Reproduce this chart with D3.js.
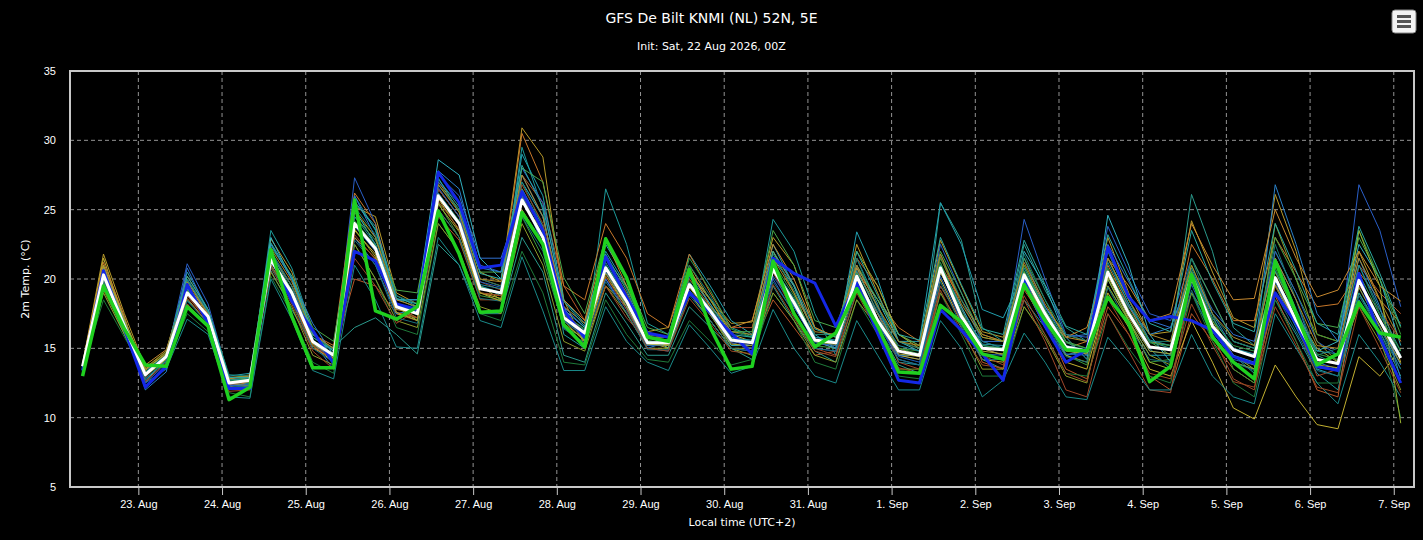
<!DOCTYPE html>
<html>
<head>
<meta charset="utf-8">
<script src="https://cdn.jsdelivr.net/npm/d3@7"></script>
<style>
  html, body { margin: 0; padding: 0; background: #000; }
  svg { display: block; font-family: "DejaVu Sans", sans-serif; }
</style>
</head>
<body>
<svg id="chart" width="1423" height="540"></svg>
<script>
const chartTitle = "GFS De Bilt KNMI (NL) 52N, 5E";
const chartSubtitle = "Init: Sat, 22 Aug 2026, 00Z";
const yTitle = "2m Temp. (°C)";
const xTitle = "Local time (UTC+2)";
const yTicks = [5, 10, 15, 20, 25, 30, 35];

// first value 22 Aug 08:00 local, then every 6 hours up to 7 Sep 02:00
const firstTime = Date.UTC(2026, 7, 22, 8);
const stepHours = 6;

// thick white line
const meanT = [
  13.7,20.3,16.6,13.1, 14.4,19.0,17.3,12.5,
  12.7,21.4,19.0,15.5, 14.5,24.0,22.2,18.0,
  17.5,26.0,24.0,19.3, 19.0,25.7,23.0,17.2,
  16.1,20.8,18.4,15.4, 15.4,19.6,17.7,15.6,
  15.4,20.7,18.3,15.6, 15.4,20.2,17.0,14.8,
  14.5,20.8,17.3,15.0, 14.9,20.3,17.5,15.1,
  14.8,20.5,17.5,15.1, 14.9,20.2,16.6,14.9,
  14.4,20.1,17.0,14.2, 13.9,19.9,17.0,14.3
];
// thick blue line
const operT = [
  13.4,20.6,16.4,12.2, 13.7,19.6,16.8,12.1,
  12.1,21.7,18.4,16.3, 13.9,22.0,21.3,18.2,
  17.8,27.7,25.5,20.8, 21.0,26.3,23.5,17.7,
  15.8,21.6,18.7,16.1, 15.8,19.0,17.6,16.1,
  14.6,21.5,20.4,19.7, 16.6,19.7,16.1,12.7,
  12.5,17.8,16.3,14.6, 12.7,19.9,16.6,14.0,
  14.9,22.3,18.7,17.0, 17.3,17.0,16.3,14.4,
  13.9,19.0,16.8,13.7, 13.4,20.4,15.8,12.5
];
// thick green line
const ctrlT = [
  13.0,19.5,16.4,13.8, 13.7,18.0,16.6,11.3,
  12.2,22.1,17.3,13.6, 13.6,25.7,17.7,17.1,
  18.0,24.9,21.8,17.6, 17.7,24.8,22.5,16.7,
  15.1,22.9,20.1,15.8, 15.5,20.7,16.5,13.5,
  13.7,21.3,17.5,15.1, 16.1,19.3,16.6,13.3,
  13.2,18.1,16.9,14.6, 14.2,19.6,17.0,14.9,
  14.8,18.7,16.8,12.6, 13.7,20.3,15.8,14.0,
  12.8,21.3,17.5,13.8, 14.6,18.3,16.1,15.8
];

// thin ensemble members
const members = [
  [13.9,21.8,17.5,13.6,14.8,20.2,17.8,12.9, 13.0,22.9,20.5,16.0,15.0,25.2,24.5,19.0, 18.2,27.0,25.0,20.5,19.8,30.9,28.8,18.5, 15.2,19.5,18.0,16.2,16.5,21.0,18.5,16.8, 16.9,23.0,21.0,16.5,15.8,22.5,19.0,15.5, 15.0,22.8,19.5,16.2,15.8,21.0,18.0,16.0, 15.5,23.0,19.0,16.0,16.2,24.2,20.5,17.2, 16.5,26.1,22.0,16.0,15.5,22.0,18.5,14.0],
  [13.5,20.8,16.9,12.8,14.2,19.5,17.6,12.4, 12.5,23.5,20.8,16.3,14.2,26.0,23.5,18.6, 17.9,27.3,24.8,19.5,18.8,29.5,25.0,16.0, 15.0,26.5,22.5,16.8,16.0,20.5,18.6,16.5, 15.9,24.3,22.0,17.5,14.5,21.5,18.2,14.0, 13.8,19.5,17.0,14.2,13.5,18.5,16.5,14.5, 14.8,21.5,18.2,15.0,13.5,19.8,16.8,14.5, 13.2,18.5,16.0,13.2,12.0,19.0,16.5,13.5],
  [13.8,19.2,16.2,12.9,14.6,18.8,17.0,12.4, 12.3,21.0,18.5,15.0,14.6,20.0,19.5,17.5, 17.0,24.5,22.8,18.5,18.5,27.5,25.5,19.5, 17.0,21.5,19.5,16.0,15.0,19.0,17.5,15.4, 15.0,18.5,16.5,14.5,14.8,21.5,19.5,16.0, 15.2,21.6,18.0,14.0,13.5,19.2,17.0,13.5, 12.8,18.0,16.0,13.0,12.0,17.5,15.5,13.5, 12.5,18.8,15.5,12.0,11.5,21.0,19.0,17.5],
  [13.4,19.8,16.3,13.5,14.0,18.5,16.8,12.8, 12.6,20.6,17.8,15.1,15.1,16.5,17.2,16.0, 14.6,22.5,21.0,17.5,17.5,23.0,20.5,14.5, 14.0,19.0,16.8,14.5,14.5,18.0,16.5,15.0, 14.2,19.5,17.0,14.8,14.0,19.2,16.5,13.8, 13.2,25.5,22.8,16.5,15.5,22.5,19.2,16.5, 15.5,22.0,18.5,15.5,15.0,26.1,22.0,16.5, 15.2,21.5,17.8,14.5,13.8,19.0,16.2,13.0],
  [13.6,20.0,16.8,13.3,14.3,19.8,17.5,12.6, 12.9,21.8,19.5,15.8,14.8,24.8,23.0,18.2, 17.0,25.5,23.0,18.8,18.5,24.5,21.5,16.5, 15.8,21.0,18.5,15.6,15.2,20.0,18.0,15.8, 15.5,21.0,18.5,15.2,15.0,20.5,18.0,15.0, 14.8,21.5,18.5,16.0,15.5,21.0,17.8,14.5, 13.8,19.5,17.0,14.0,14.2,21.0,17.5,13.5, 12.5,22.0,19.0,16.0,15.5,23.5,20.0,16.0],
  [13.5,21.0,17.2,13.0,14.4,21.1,18.2,12.8, 12.8,22.0,19.5,15.5,14.0,27.3,24.0,18.5, 18.5,27.0,25.5,21.0,20.5,28.0,25.5,18.0, 16.5,20.0,17.8,15.2,15.5,19.5,17.5,15.5, 15.2,20.0,17.5,15.0,14.8,21.0,18.0,14.5, 14.2,22.5,19.0,15.5,15.0,24.3,20.0,16.0, 15.8,23.8,20.5,17.5,17.0,21.5,18.5,15.5, 15.0,22.0,19.0,15.5,14.5,26.8,23.5,18.0],
  [13.8,21.5,17.0,13.2,14.5,19.2,17.2,12.3, 12.4,21.0,18.6,15.2,14.0,23.5,21.8,17.5, 17.2,25.8,23.5,19.0,18.6,26.5,23.5,17.5, 15.5,20.2,18.0,15.2,15.3,20.5,18.5,16.0, 15.5,20.5,18.0,15.5,15.0,19.5,16.8,14.5, 14.2,20.0,16.8,14.2,14.0,19.5,16.5,14.0, 13.5,19.0,16.5,13.5,13.0,17.0,14.0,10.7, 9.9,13.8,11.5,9.5,9.2,14.4,13.0,15.0],
  [13.6,20.5,16.7,13.4,14.6,20.5,17.8,13.0, 13.2,22.5,20.0,15.8,14.8,25.5,23.8,18.8, 18.0,26.5,24.5,19.5,19.0,29.0,26.0,18.5, 16.8,22.0,19.5,16.0,15.8,21.8,19.5,17.0, 16.0,22.5,19.5,16.0,15.0,23.4,20.0,15.5, 15.5,25.5,22.5,17.8,17.2,20.5,18.0,15.5, 14.5,20.0,17.0,14.5,14.5,19.0,16.0,14.0, 13.5,19.5,16.5,13.5,13.0,18.5,16.0,12.5],
  [13.5,18.5,15.8,13.2,13.8,17.5,16.2,11.8, 11.5,20.2,17.5,14.0,13.2,22.5,20.0,16.5, 16.0,24.0,22.0,17.5,17.0,22.0,19.0,14.0, 13.8,18.5,16.0,14.2,14.0,17.0,15.5,13.8, 14.2,19.0,17.0,14.0,13.5,18.5,16.0,13.0, 12.8,19.0,16.0,13.0,13.0,18.0,16.0,13.2, 13.0,17.5,15.0,13.0,12.5,19.0,15.5,12.5, 11.5,18.5,15.5,12.5,12.5,20.5,16.0,10.0],
  [13.9,21.2,17.3,12.5,14.3,18.6,16.8,12.2, 12.6,21.8,19.5,16.0,15.2,26.2,24.0,18.0, 17.2,26.5,24.5,20.0,19.5,30.5,27.0,19.5, 18.5,24.0,21.5,17.5,16.5,21.8,19.0,16.5, 16.5,22.0,19.5,16.0,16.0,20.5,18.5,16.5, 15.5,21.0,18.5,16.0,15.5,19.8,17.5,15.0, 15.5,21.0,18.0,15.5,15.2,22.5,20.0,17.0, 17.0,23.0,20.5,18.0,18.2,20.5,18.5,16.8],
  [13.3,20.3,16.5,12.3,13.6,20.8,17.6,12.2, 12.2,21.2,18.8,15.5,13.5,26.0,23.0,17.8, 18.0,27.5,26.0,21.5,21.5,26.0,22.5,16.5, 15.2,20.0,17.5,15.0,14.8,19.0,17.0,15.0, 14.8,20.5,18.0,15.5,15.5,20.0,16.8,14.2, 13.8,20.5,17.5,15.5,15.5,21.5,18.0,15.8, 16.0,22.5,19.8,17.0,16.5,20.5,17.8,16.0, 15.5,21.5,18.5,14.0,13.5,20.0,17.0,13.8],
  [13.7,20.6,16.9,13.5,14.8,18.2,16.6,12.8, 13.1,20.5,18.0,14.5,13.8,22.5,20.0,17.0, 16.5,24.0,22.0,18.0,17.5,24.0,21.0,15.5, 14.8,19.5,17.5,15.0,15.0,19.5,17.5,15.0, 15.0,19.0,17.0,14.5,14.0,18.5,16.5,13.5, 13.5,19.0,16.5,13.5,13.5,18.0,15.8,13.0, 12.5,19.5,17.0,14.5,13.8,19.0,16.8,14.0, 13.5,24.0,20.0,15.5,14.0,18.0,15.5,12.0],
  [13.5,19.6,16.4,12.7,14.1,19.3,17.0,12.6, 12.5,23.0,20.0,16.2,14.4,25.0,22.5,18.5, 18.5,28.6,27.5,21.5,20.0,27.0,24.5,17.8, 16.5,22.5,20.0,16.0,15.0,19.0,17.5,15.2, 15.2,21.5,19.5,15.8,15.5,20.8,18.5,15.5, 14.8,21.0,18.0,15.2,15.0,22.0,19.5,15.8, 14.2,24.6,21.0,16.0,14.0,20.0,16.5,14.5, 14.0,20.0,17.5,14.8,15.5,22.5,20.0,15.2],
  [13.8,20.0,16.5,12.6,14.0,18.2,16.5,11.9, 12.0,20.8,18.2,14.8,13.5,21.5,19.5,16.8, 17.8,26.5,24.5,19.8,19.2,26.0,23.5,17.5, 15.5,19.5,17.2,15.5,15.5,20.0,18.0,16.5, 16.5,20.5,17.5,15.0,14.5,19.5,17.5,14.0, 13.5,19.5,17.0,14.5,13.8,18.5,15.5,12.0, 11.5,17.5,14.8,12.0,11.8,20.0,16.0,12.8, 12.0,19.5,16.8,13.0,13.5,19.5,17.8,15.5],
  [13.6,19.8,16.4,13.0,14.4,19.5,17.2,12.7, 12.9,22.3,20.2,16.5,15.5,24.5,22.8,19.2, 19.0,26.8,25.0,20.5,20.5,28.0,27.0,20.1, 17.5,23.0,20.0,16.5,16.0,20.5,18.5,16.2, 16.2,23.5,21.0,17.0,16.5,21.0,18.5,16.0, 15.2,22.0,19.0,15.8,15.5,21.5,18.5,15.5, 15.0,21.5,18.5,15.5,14.5,21.5,18.5,15.5, 15.0,23.0,20.0,16.8,16.5,23.0,20.0,16.5],
  [13.4,19.5,16.0,12.5,13.5,17.1,16.0,11.5, 11.4,20.0,17.1,13.4,12.8,21.0,18.5,15.1, 15.0,23.0,21.0,17.0,16.5,21.6,17.7,13.4, 13.4,18.0,15.5,14.0,13.4,16.7,15.0,13.2, 13.7,17.8,15.0,13.0,12.5,17.0,14.5,12.0, 12.0,17.0,15.0,11.5,12.7,16.1,14.0,11.5, 11.3,15.8,14.0,12.0,12.0,16.0,13.0,11.5, 11.0,17.5,15.0,12.5,11.0,16.0,14.0,11.5],
  [13.2,20.8,17.0,12.0,13.3,20.0,17.5,12.4, 12.2,22.5,20.0,16.8,14.5,23.0,21.0,17.5, 17.8,27.8,26.5,20.8,20.5,27.5,24.5,18.0, 15.5,21.0,18.0,15.0,15.5,20.5,18.2,15.8, 15.5,20.8,18.0,15.5,15.0,20.0,17.5,14.5, 14.5,20.5,17.5,15.0,14.5,20.0,17.0,14.5, 15.0,20.5,18.0,16.0,16.5,20.5,17.5,15.0, 14.5,26.8,22.5,17.5,15.5,21.5,18.0,12.8],
  [13.7,20.6,16.8,13.8,14.9,19.6,17.4,12.9, 12.9,21.0,18.5,15.0,14.3,23.0,21.5,17.8, 17.5,25.0,23.0,19.0,18.8,25.5,23.5,18.5, 17.0,22.8,19.5,16.0,15.8,20.8,18.0,16.5, 17.0,22.5,20.0,16.5,15.8,20.8,17.5,15.0, 14.5,20.5,17.5,15.0,14.5,19.8,17.2,15.8, 16.5,21.5,19.5,17.0,17.5,24.0,21.0,18.5, 18.6,25.0,21.5,18.7,19.2,22.0,19.5,18.4],
  [13.6,19.0,16.0,13.0,14.2,18.0,16.5,12.5, 12.3,21.5,19.0,15.5,14.5,24.0,22.0,18.0, 17.0,25.5,24.0,19.5,18.5,26.0,23.0,17.0, 15.5,20.5,18.2,15.5,15.0,19.0,17.0,15.0, 14.5,22.0,19.0,15.5,15.2,22.0,19.5,16.0, 15.0,20.5,17.5,15.0,15.0,20.5,17.5,14.5, 14.0,20.0,17.0,14.0,13.5,20.5,17.0,14.5, 13.5,20.5,17.5,15.0,14.0,23.5,19.5,9.6],
  [13.5,20.1,16.6,13.1,14.7,20.0,17.7,13.1, 13.0,22.0,19.5,16.0,14.9,25.2,23.2,18.8, 18.2,26.8,25.0,20.0,19.5,27.0,23.8,17.0, 16.0,21.0,18.8,15.8,15.8,21.0,18.8,16.2, 15.8,21.8,19.2,16.0,16.0,21.5,17.8,15.5, 15.0,21.8,18.5,15.5,15.0,21.8,18.5,16.0, 15.5,21.5,18.5,15.5,15.5,21.5,17.5,15.5, 15.0,22.5,18.5,14.5,15.0,21.0,17.5,14.5],
  [13.6,20.4,16.9,13.3,14.5,19.9,17.6,12.7, 12.8,21.9,19.2,15.6,14.6,24.5,22.5,18.2, 17.6,26.2,24.2,19.6,19.3,26.5,23.8,17.5, 16.3,21.2,18.6,15.5,15.5,19.8,17.9,15.7, 15.6,20.9,18.6,15.8,15.6,20.6,17.6,15.2, 14.8,21.0,17.8,15.3,15.2,20.8,17.8,15.2, 14.9,21.2,18.2,15.6,15.2,20.8,17.2,15.0, 14.6,20.6,17.6,14.8,14.6,21.0,17.8,14.8],
  [13.5,19.9,16.3,12.8,14.1,18.4,16.8,12.2, 12.3,20.9,18.4,15.0,14.0,22.8,21.0,17.2, 16.8,25.0,23.0,18.6,18.4,24.5,22.0,16.4, 15.4,19.8,17.6,14.9,14.9,18.8,17.0,15.0, 14.8,19.8,17.6,15.0,14.8,19.4,16.4,14.2, 13.8,19.8,16.6,14.2,14.2,19.4,16.8,14.4, 14.0,19.4,16.6,14.2,14.0,19.2,15.8,14.0, 13.4,19.0,16.2,13.4,13.0,18.8,16.2,13.5],
  [13.7,20.9,17.0,13.4,14.7,19.8,17.5,12.8, 13.0,22.2,19.8,16.0,15.0,25.0,23.0,18.5, 18.0,26.8,24.8,20.0,19.8,27.5,24.5,18.0, 16.8,21.5,19.0,15.8,15.8,20.5,18.5,16.2, 16.0,21.5,19.0,16.2,16.0,21.0,18.0,15.5, 15.2,21.8,18.2,15.8,15.5,21.2,18.2,15.8, 15.5,21.5,18.5,16.0,15.5,21.0,17.5,15.8, 15.2,21.5,18.5,15.2,15.0,21.5,18.5,15.5],
  [13.4,20.2,16.4,12.5,13.9,19.4,17.0,12.3, 12.4,21.3,18.8,15.4,14.2,23.8,22.0,18.0, 17.6,26.6,24.5,19.8,19.4,26.0,23.0,17.0, 15.8,20.5,18.0,15.2,15.2,19.2,17.4,15.4, 15.0,20.2,18.0,15.4,15.2,19.8,16.8,14.4, 14.0,20.2,17.0,14.6,14.5,19.8,17.2,14.6, 14.5,20.5,17.5,14.8,14.6,19.6,16.2,14.2, 13.8,19.8,16.6,13.6,13.4,19.4,16.6,13.8],
  [13.6,20.2,16.6,13.2,14.4,19.2,17.2,12.6, 12.8,21.6,19.2,15.6,14.6,24.2,22.4,18.2, 17.4,26.0,24.2,19.4,19.0,25.8,23.2,17.4, 16.4,21.6,19.4,16.0,15.8,21.5,19.2,16.4, 15.8,21.2,18.8,15.6,15.4,20.4,17.2,15.0, 14.6,21.2,17.6,15.2,15.0,20.6,17.8,15.4, 15.0,20.8,17.8,15.4,15.2,20.6,17.0,15.2, 14.8,20.8,17.4,14.6,14.2,20.4,17.4,14.8],
  [13.8,20.4,16.7,13.0,14.3,18.8,16.9,12.4, 12.6,21.0,18.6,15.2,14.2,23.2,21.4,17.6, 17.2,25.6,23.6,19.0,18.8,26.8,24.0,17.8, 16.0,20.2,17.8,15.0,14.8,18.6,16.8,14.8, 14.6,19.6,17.2,14.8,14.4,19.0,16.2,13.6, 13.2,19.2,16.2,13.8,13.6,18.8,16.0,13.2, 12.6,18.6,16.0,13.2,12.8,18.2,15.2,12.6, 12.2,18.0,15.2,12.2,11.8,18.0,15.0,11.8],
  [13.5,20.6,16.9,13.0,14.4,20.2,17.8,12.9, 12.9,22.6,20.2,16.0,14.8,25.6,23.6,18.6, 18.2,27.2,25.2,20.4,20.0,28.2,25.2,18.4, 16.6,21.8,19.2,15.8,15.6,20.2,18.2,16.0, 15.8,22.0,19.6,16.4,15.8,22.0,18.8,16.0, 15.6,23.0,19.6,16.4,16.0,22.8,19.6,16.6, 16.0,23.2,20.0,16.8,16.2,23.5,19.8,16.8, 16.2,24.0,20.6,16.8,16.0,23.8,20.4,16.6],
  [13.7,21.0,17.1,13.5,14.6,19.4,17.2,12.6, 12.6,21.4,18.9,15.3,14.4,23.6,21.6,17.6, 17.0,25.4,23.4,19.0,18.4,25.0,22.6,16.8, 15.6,20.4,18.0,15.3,15.2,19.4,17.4,15.3, 15.2,20.6,18.2,15.5,15.3,20.0,17.0,14.6, 14.4,20.6,17.2,14.8,14.6,20.0,17.2,14.8, 14.6,20.2,17.2,14.8,14.6,20.0,16.4,14.4, 13.8,19.6,16.8,13.8,13.6,19.4,16.6,13.9]
];
const memberColors = [
  "#b89a2a", "#1d9a9a", "#b8582a", "#2a9a8c", "#3a9a3a", "#2a5fc8", "#c2b030",
  "#22a0b0", "#1f7a3a", "#c8782a", "#3070d0", "#8a9a2a", "#30b0c0", "#a0482a",
  "#4aa84a", "#1a8a8a", "#2a80c8", "#c88a30", "#9ab030", "#1a7a70",
  "#1f8f9a", "#1a6f7a", "#b08a2a", "#2060b8", "#2e9a48", "#9a4a24", "#2aa8a0", "#a8a830"
];

const svg = d3.select("#chart");
const width = +svg.attr("width"), height = +svg.attr("height");
const margin = { top: 71, right: 9, bottom: 53, left: 70 };
const plotW = width - margin.left - margin.right;
const plotH = height - margin.top - margin.bottom;

svg.append("rect").attr("width", width).attr("height", height).attr("fill", "#000");

const times = meanT.map((d, i) => new Date(firstTime + i * stepHours * 3600000));

const x = d3.scaleUtc()
  .domain([new Date(Date.UTC(2026, 7, 22, 4, 24)), new Date(Date.UTC(2026, 8, 7, 5, 48))])
  .range([margin.left, margin.left + plotW]);
const y = d3.scaleLinear().domain([5, 35]).range([margin.top + plotH, margin.top]);

const days = d3.utcDay.range(new Date(Date.UTC(2026, 7, 23)), new Date(Date.UTC(2026, 8, 7, 1)));

// grid
svg.append("g")
  .selectAll("line")
  .data(yTicks)
  .enter()
  .append("line")
  .attr("x1", margin.left).attr("x2", margin.left + plotW)
  .attr("y1", d => y(d)).attr("y2", d => y(d))
  .attr("stroke", "#939393")
  .attr("stroke-width", 1)
  .attr("stroke-dasharray", "4,3");

svg.append("g")
  .selectAll("line")
  .data(days)
  .enter()
  .append("line")
  .attr("x1", d => x(d)).attr("x2", d => x(d))
  .attr("y1", margin.top).attr("y2", margin.top + plotH)
  .attr("stroke", "#939393")
  .attr("stroke-width", 1)
  .attr("stroke-dasharray", "4,3");

// series
const line = d3.line()
  .x((d, i) => x(times[i]))
  .y(d => y(d));

const plot = svg.append("g");
plot.selectAll("path.member")
  .data(members)
  .enter()
  .append("path")
  .attr("class", "member")
  .attr("d", line)
  .attr("fill", "none")
  .attr("stroke", (d, i) => memberColors[i % memberColors.length])
  .attr("stroke-width", 1)
  .attr("stroke-linejoin", "round");

plot.append("path").attr("d", line(operT))
  .attr("fill", "none").attr("stroke", "#1428e6").attr("stroke-width", 3).attr("stroke-linejoin", "round");
plot.append("path").attr("d", line(meanT))
  .attr("fill", "none").attr("stroke", "#ffffff").attr("stroke-width", 3).attr("stroke-linejoin", "round");
plot.append("path").attr("d", line(ctrlT))
  .attr("fill", "none").attr("stroke", "#1fd01f").attr("stroke-width", 3.5).attr("stroke-linejoin", "round");

// frame
svg.append("rect")
  .attr("x", margin.left).attr("y", margin.top)
  .attr("width", plotW).attr("height", plotH)
  .attr("fill", "none").attr("stroke", "#c8c8c8").attr("stroke-width", 2);

// axes
const xAxis = d3.axisBottom(x)
  .tickValues(days)
  .tickFormat(d3.utcFormat("%-d. %b"))
  .tickSize(8)
  .tickPadding(5);
const gx = svg.append("g")
  .attr("transform", `translate(0,${margin.top + plotH})`)
  .call(xAxis);
gx.select(".domain").remove();
gx.selectAll(".tick line").attr("stroke", "#c8c8c8");
gx.selectAll("text").attr("fill", "#fff").style("font-size", "11px");

const yAxis = d3.axisLeft(y).tickValues(yTicks).tickSize(0).tickPadding(14);
const gy = svg.append("g")
  .attr("transform", `translate(${margin.left},0)`)
  .call(yAxis);
gy.select(".domain").remove();
gy.selectAll("text").attr("fill", "#fff").style("font-size", "11px");

// titles
svg.append("text")
  .attr("x", width / 2).attr("y", 23)
  .attr("text-anchor", "middle")
  .attr("fill", "#fff")
  .style("font-size", "14px")
  .text(chartTitle);
svg.append("text")
  .attr("x", width / 2).attr("y", 50)
  .attr("text-anchor", "middle")
  .attr("fill", "#fff")
  .style("font-size", "11px")
  .text(chartSubtitle);
svg.append("text")
  .attr("transform", `translate(29,${margin.top + plotH / 2}) rotate(-90)`)
  .attr("text-anchor", "middle")
  .attr("fill", "#fff")
  .style("font-size", "11px")
  .text(yTitle);
svg.append("text")
  .attr("x", margin.left + plotW / 2).attr("y", 526)
  .attr("text-anchor", "middle")
  .attr("fill", "#fff")
  .style("font-size", "11px")
  .text(xTitle);

// menu button
const menu = svg.append("g").attr("transform", "translate(1392,10)");
menu.append("rect")
  .attr("width", 24).attr("height", 23).attr("rx", 3)
  .attr("fill", "#f4f4f4").attr("stroke", "#888").attr("stroke-width", 1);
menu.selectAll("rect.bar")
  .data([5, 10, 15])
  .enter()
  .append("rect")
  .attr("class", "bar")
  .attr("x", 5).attr("y", d => d)
  .attr("width", 14).attr("height", 3)
  .attr("fill", "#555");
</script>
</body>
</html>
